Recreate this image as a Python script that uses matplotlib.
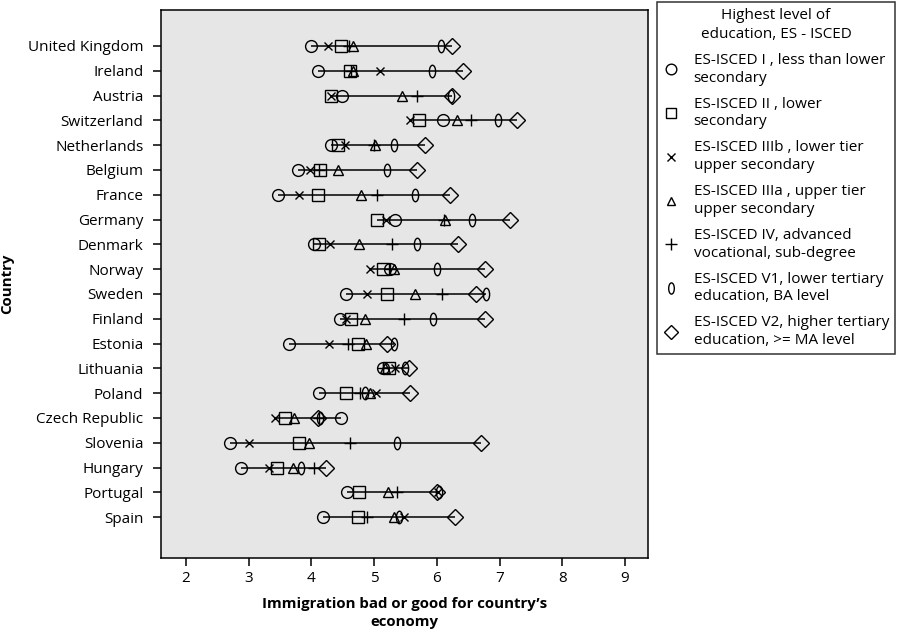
import numpy as np
import matplotlib
matplotlib.use("Agg")
import matplotlib.pyplot as plt
from matplotlib.lines import Line2D
from matplotlib.path import Path
from matplotlib.transforms import Affine2D

plt.rcParams['font.family'] = ['Open Sans', 'DejaVu Sans']

# Data (mean score per country and education level)
countries = ['United Kingdom', 'Ireland', 'Austria', 'Switzerland', 'Netherlands',
             'Belgium', 'France', 'Germany', 'Denmark', 'Norway', 'Sweden', 'Finland',
             'Estonia', 'Lithuania', 'Poland', 'Czech Republic', 'Slovenia', 'Hungary',
             'Portugal', 'Spain']

isced_1 = [4.00, 4.11, 4.49, 6.10, 4.32, 3.79, 3.47, 5.33, 4.04, 5.25,
           4.56, 4.45, 3.65, 5.15, 4.13, 4.48, 2.71, 2.88, 4.57, 4.19]
isced_2 = [4.47, 4.62, 4.32, 5.72, 4.43, 4.14, 4.11, 5.04, 4.13, 5.15,
           5.20, 4.63, 4.74, 5.23, 4.56, 3.58, 3.81, 3.45, 4.76, 4.75]
isced_3b = [4.27, 5.10, 4.32, 5.57, 4.54, 3.98, 3.81, 5.19, 4.30, 4.93,
            4.88, 4.55, 4.28, 5.33, 5.03, 3.42, 3.00, 3.32, 6.02, 5.47]
isced_3a = [4.66, 4.66, 5.45, 6.32, 5.01, 4.43, 4.79, 6.13, 4.76, 5.32,
            5.65, 4.85, 4.87, 5.18, 4.93, 3.73, 3.96, 3.70, 5.22, 5.31]
isced_4 = [4.60, 4.64, 5.68, 6.54, 5.00, 4.13, 5.04, 6.12, 5.28, 5.25,
           6.09, 5.47, 4.59, 5.15, 4.78, 4.13, 4.62, 4.04, 5.36, 4.89]
isced_v1 = [6.06, 5.92, 6.22, 6.97, 5.31, 5.21, 5.66, 6.56, 5.68, 6.01,
            6.79, 5.94, 5.32, 5.49, 4.86, 4.14, 5.36, 3.84, 6.03, 5.40]
isced_v2 = [6.24, 6.42, 6.24, 7.27, 5.81, 5.69, 6.21, 7.16, 6.33, 6.77,
            6.63, 6.77, 5.20, 5.55, 5.58, 4.11, 6.71, 4.24, 6.01, 6.29]

level_labels = ['ES-ISCED I , less than lower\nsecondary',
                'ES-ISCED II , lower\nsecondary',
                'ES-ISCED IIIb , lower tier\nupper secondary',
                'ES-ISCED IIIa , upper tier\nupper secondary',
                'ES-ISCED IV, advanced\nvocational, sub-degree',
                'ES-ISCED V1, lower tertiary\neducation, BA level',
                'ES-ISCED V2, higher tertiary\neducation, >= MA level']

# narrow ellipse marker for the "0" symbol
ellipse = Path.unit_circle().transformed(Affine2D().scale(0.5, 1.0))

series = [isced_1, isced_2, isced_3b, isced_3a, isced_4, isced_v1, isced_v2]
markers = ['o', 's', 'x', '^', '+', ellipse, 'D']
sizes = [8.5, 8, 6, 7, 9, 9, 8]

fig = plt.figure(figsize=(8.99, 6.36), dpi=100)
ax = fig.add_axes([0.1788, 0.1226, 0.5423, 0.8617])
ax.set_facecolor('#e6e6e6')

y = np.arange(len(countries))
vals = np.array(series)
ax.hlines(y, vals.min(axis=0), vals.max(axis=0), color='black', lw=1.1, zorder=2)

for s, m, ms in zip(series, markers, sizes):
    ax.plot(s, y, linestyle='none', marker=m, markersize=ms, mfc='none',
            mec='black', mew=1.0, zorder=3)

ax.set_xlim(1.6, 9.37)
ax.set_ylim(len(countries) - 1 + 1.65, -1.45)
ax.set_xticks(range(2, 10))
ax.set_yticks(y)
ax.set_yticklabels(countries)
ax.tick_params(axis='both', labelsize=11, length=6, width=1.1, direction='out')
ax.tick_params(axis='y', pad=6.5)
for sp in ax.spines.values():
    sp.set_linewidth(1.1)

ax.set_xlabel("Immigration bad or good for country\u2019s\neconomy",
              fontsize=10.8, fontweight='bold', labelpad=8, linespacing=1.3)
ax.set_ylabel('Country', fontsize=10.8, fontweight='bold', labelpad=10)

handles = [Line2D([], [], linestyle='none', marker=m, markersize=ms * 0.9,
                  mfc='none', mec='black', mew=1.0)
           for m, ms in zip(markers, sizes)]
leg = fig.legend(handles, level_labels,
                 title='Highest level of\neducation, ES - ISCED',
                 loc='upper left', bbox_to_anchor=(657 / 899, 1 - 2 / 636),
                 borderaxespad=0, fontsize=11, title_fontsize=11, frameon=True,
                 fancybox=False, edgecolor='black', borderpad=0.4,
                 labelspacing=0.72, handletextpad=1.0, handlelength=1.0)
leg.get_frame().set_linewidth(1.1)
leg.get_title().set_multialignment('center')
leg.get_title().set_linespacing(1.35)
for t in leg.get_texts():
    t.set_linespacing(1.25)

fig.savefig('out.png', dpi=100)
